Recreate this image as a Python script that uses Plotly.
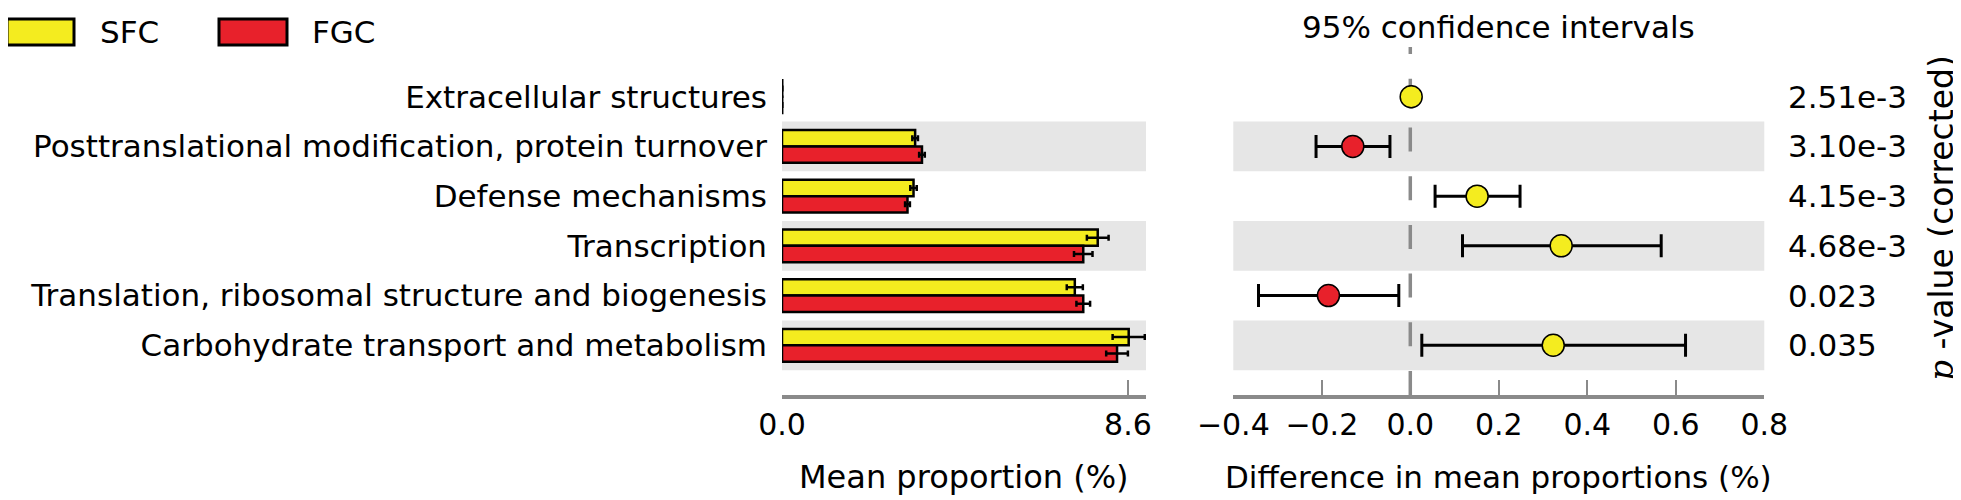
import plotly.graph_objects as go

# ---------------- data ----------------
categories = [
    "Extracellular structures",
    "Posttranslational modification, protein turnover",
    "Defense mechanisms",
    "Transcription",
    "Translation, ribosomal structure and biogenesis",
    "Carbohydrate transport and metabolism",
]
series_names = ["SFC", "FGC"]
sfc_mean = [0.006, 3.31, 3.27, 7.85, 7.28, 8.62]
sfc_err = [0.002, 0.07, 0.08, 0.27, 0.20, 0.40]
fgc_mean = [0.005, 3.48, 3.12, 7.49, 7.49, 8.33]
fgc_err = [0.002, 0.07, 0.06, 0.23, 0.17, 0.27]

diff_mean = [0.002, -0.130, 0.151, 0.341, -0.185, 0.323]
diff_low = [0.0015, -0.213, 0.056, 0.118, -0.343, 0.026]
diff_high = [0.0025, -0.046, 0.248, 0.567, -0.026, 0.622]

p_values = ["2.51e-3", "3.10e-3", "4.15e-3", "4.68e-3", "0.023", "0.035"]

left_ticks = [0.0, 8.6]
left_ticktext = ["0.0", "8.6"]
right_ticks = [-0.4, -0.2, 0.0, 0.2, 0.4, 0.6, 0.8]
right_ticktext = ["\u22120.4", "\u22120.2", "0.0", "0.2", "0.4", "0.6", "0.8"]

# ---------------- style / layout helpers ----------------
PAGE_W, PAGE_H = 1961, 500
OFF = 8  # default page body margin
W, H = PAGE_W - OFF, PAGE_H - OFF
YELLOW = "#f4ec1f"
RED = "#e8212b"
BAND = "#e6e6e6"
AXGRAY = "#8a8a8a"
FONT = "DejaVu Sans"
FS = 31
FS_TICK = 30
colors = [YELLOW, RED]


def px_x(p):
    return (p - OFF) / W


def px_y(p):
    return 1 - (p - OFF) / H


rows = list(range(len(categories)))
left_dom = [px_x(782), px_x(1146)]
right_dom = [px_x(1233.3), px_x(1764.3)]
y_dom = [px_y(395), px_y(47)]

fig = go.Figure()

for name, vals, errs, col in zip(series_names, [sfc_mean, fgc_mean], [sfc_err, fgc_err], colors):
    fig.add_trace(go.Bar(
        y=rows, x=vals, orientation="h", name=name,
        marker=dict(color=col, line=dict(color="black", width=2.5)),
        error_x=dict(type="data", array=errs, color="black", thickness=2.5, width=3),
        xaxis="x", yaxis="y", showlegend=False,
    ))

pt_colors = [YELLOW if d >= 0 else RED for d in diff_mean]
fig.add_trace(go.Scatter(
    x=diff_mean, y=rows, mode="markers",
    marker=dict(color=pt_colors, size=22, line=dict(color="black", width=1.5)),
    error_x=dict(type="data", symmetric=False,
                 array=[h - m for h, m in zip(diff_high, diff_mean)],
                 arrayminus=[m - l for m, l in zip(diff_mean, diff_low)],
                 color="black", thickness=3, width=11.5),
    xaxis="x2", yaxis="y2", showlegend=False,
))

shapes = []
for r in rows:
    if r % 2 == 1:
        for xr, yr in [("x domain", "y"), ("x2 domain", "y2")]:
            shapes.append(dict(type="rect", xref=xr, yref=yr, x0=0, x1=1,
                               y0=r - 0.5, y1=r + 0.5, fillcolor=BAND,
                               line=dict(width=0), layer="below"))
# dashed zero line (drawn from the bottom up)
shapes.append(dict(type="line", xref="x2", yref="y2", x0=0, x1=0, y0=6, y1=-1,
                   line=dict(color=AXGRAY, width=3.5, dash="24px,24.7px"), layer="below"))

# legend boxes
leg_boxes = [(7, 74), (219, 287)]
leg_text_x = [98, 310]
annotations = []
for (x0, x1), tx, name, col in zip(leg_boxes, leg_text_x, series_names, colors):
    shapes.append(dict(type="rect", xref="paper", yref="paper",
                       x0=px_x(x0), x1=px_x(x1), y0=px_y(45), y1=px_y(19),
                       fillcolor=col, line=dict(color="black", width=3)))
    annotations.append(dict(x=px_x(tx), y=px_y(32), xref="paper", yref="paper",
                            text=name, showarrow=False, xanchor="left", yanchor="middle",
                            font=dict(size=FS, color="black", family=FONT)))

for r, pv in zip(rows, p_values):
    annotations.append(dict(x=px_x(1786), y=r, xref="paper", yref="y2", text=pv,
                            showarrow=False, xanchor="left", yanchor="middle",
                            font=dict(size=FS, color="black", family=FONT)))

annotations.append(dict(x=(right_dom[0] + right_dom[1]) / 2, y=1, xref="paper", yref="paper",
                        text="95% confidence intervals", showarrow=False,
                        xanchor="center", yanchor="top", borderpad=0,
                        font=dict(size=FS, color="black", family=FONT)))
annotations.append(dict(x=px_x(1942), y=px_y(218), xref="paper", yref="paper",
                        text="<i><span style='font-family:DejaVu Serif'>p</span></i> -value (corrected)",
                        showarrow=False, textangle=-90, xanchor="center", yanchor="middle",
                        font=dict(size=33, color="black", family=FONT)))
annotations.append(dict(x=(left_dom[0] + left_dom[1]) / 2, y=px_y(477), xref="paper", yref="paper",
                        text="Mean proportion (%)", showarrow=False, xanchor="center", yanchor="middle",
                        font=dict(size=32, color="black", family=FONT)))
annotations.append(dict(x=(right_dom[0] + right_dom[1]) / 2, y=px_y(477), xref="paper", yref="paper",
                        text="Difference in mean proportions (%)", showarrow=False,
                        xanchor="center", yanchor="middle",
                        font=dict(size=FS, color="black", family=FONT)))

xaxis_common = dict(showgrid=False, zeroline=False, showline=True, linecolor=AXGRAY, linewidth=4,
                    ticks="inside", ticklen=15, tickwidth=2, tickcolor=AXGRAY, tickangle=0,
                    tickfont=dict(size=FS_TICK, color="black", family=FONT),
                    ticklabelstandoff=0, automargin=False, fixedrange=True)

fig.update_layout(
    width=W, height=H,
    margin=dict(l=0, r=0, t=0, b=0),
    paper_bgcolor="white", plot_bgcolor="rgba(0,0,0,0)",
    barmode="group", bargap=0.34, bargroupgap=0,
    font=dict(family=FONT, color="black"),
    xaxis=dict(domain=left_dom, range=[0, 9.05], tickvals=left_ticks, ticktext=left_ticktext,
               anchor="y", **xaxis_common),
    xaxis2=dict(domain=right_dom, range=[-0.4, 0.8], tickvals=right_ticks, ticktext=right_ticktext,
                anchor="y2", **xaxis_common),
    yaxis=dict(domain=y_dom, range=[6, -1], tickvals=rows, ticktext=categories,
               showgrid=False, zeroline=False, showline=False, ticks="",
               tickfont=dict(size=FS, color="black", family=FONT),
               ticklabelstandoff=14, automargin=False, anchor="x", fixedrange=True),
    yaxis2=dict(domain=y_dom, range=[6, -1], showticklabels=False, showgrid=False,
                zeroline=False, showline=False, ticks="", anchor="x2", fixedrange=True),
    shapes=shapes,
    annotations=annotations,
)

fig.write_html("out.html")
